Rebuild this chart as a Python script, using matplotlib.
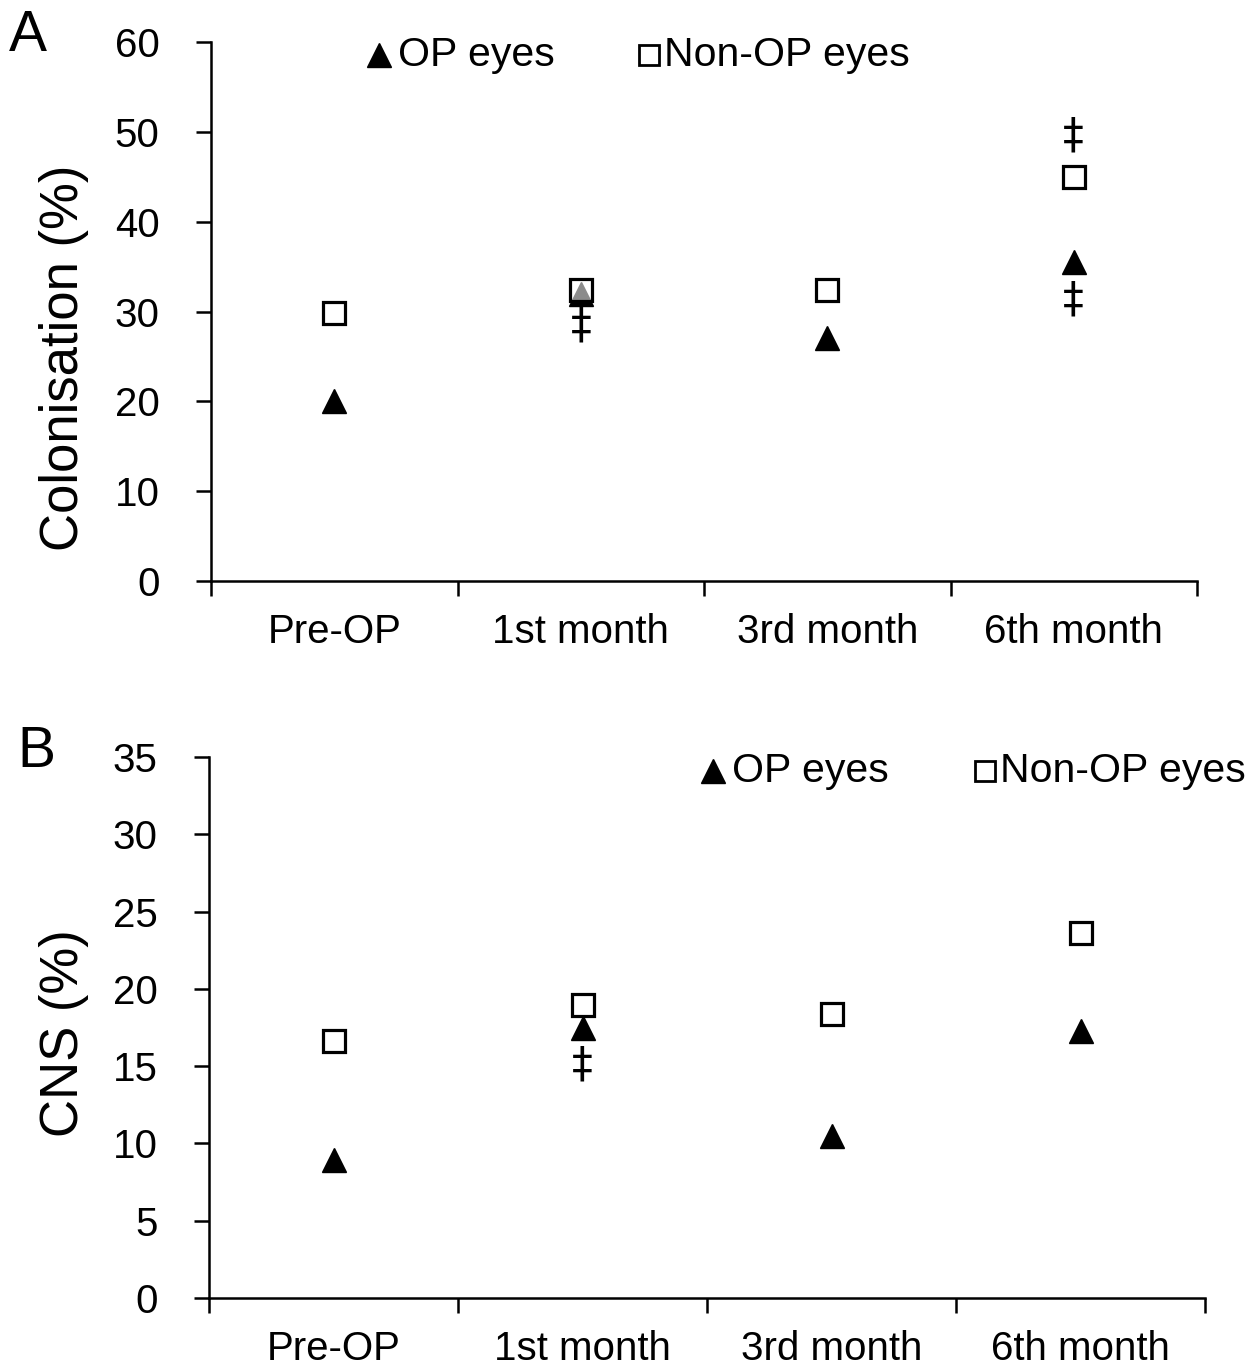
import matplotlib
matplotlib.use("Agg")
import matplotlib.pyplot as plt

plt.rcParams['font.family'] = ['Liberation Sans', 'DejaVu Sans']

categories = ["Pre-OP", "1st month", "3rd month", "6th month"]

# Panel A: Colonisation (%)
colon_op = [20.0, 32.0, 27.0, 35.5]
colon_nonop = [29.8, 32.4, 32.4, 45.0]
colon_dagger_cat = [1, 3, 3]
colon_dagger_y = [28.4, 49.6, 31.3]

# Panel B: CNS (%)
cns_op = [8.9, 17.5, 10.5, 17.3]
cns_nonop = [16.6, 18.95, 18.4, 23.6]
cns_dagger_cat = [1]
cns_dagger_y = [15.1]

W, H = 1256, 1365
fig = plt.figure(figsize=(W / 100, H / 100), dpi=100)
axA = fig.add_axes([211 / W, 1 - 581 / H, 986 / W, 539 / H])
axB = fig.add_axes([209 / W, 1 - 1298 / H, 996 / W, 541 / H])

MS = 16
MEW = 2.3
TICKFS = 29
LEGFS = 29.5


def draw(ax, op, nonop, dcat, dy, ymax, ystep, ylabel, label_coords, legend_px, axw, overlap_alpha):
    x = list(range(len(categories)))
    ax.plot(x, op, linestyle='none', marker='^', ms=MS + 1, color='black', zorder=3)
    ax.plot(x, nonop, linestyle='none', marker='s', ms=MS, mfc=(1, 1, 1, overlap_alpha),
            mec='black', mew=MEW, zorder=4)
    for c, y in zip(dcat, dy):
        ax.text(c, y, '\u2021', ha='center', va='center', fontsize=30, color='black',
                family='DejaVu Sans', zorder=5)
    ax.set_xlim(-0.5, len(categories) - 0.5)
    ax.set_ylim(0, ymax)
    ax.set_yticks(range(0, ymax + 1, ystep))
    ax.set_xticks([i - 0.5 for i in range(len(categories) + 1)])
    ax.set_xticklabels([])
    ax.set_xticks(x, minor=True)
    ax.set_xticklabels(categories, minor=True)
    ax.tick_params(axis='x', which='minor', length=0, pad=23, labelsize=TICKFS)
    ax.tick_params(axis='x', which='major', length=11, width=1.8, direction='out')
    ax.tick_params(axis='y', length=11, width=1.8, labelsize=TICKFS, pad=26)
    for s in ['top', 'right']:
        ax.spines[s].set_visible(False)
    for s in ['left', 'bottom']:
        ax.spines[s].set_linewidth(1.8)
    ax.set_ylabel(ylabel, fontsize=38)
    ax.yaxis.set_label_coords(*label_coords)
    # legend
    (t_px, s_px, yleg) = legend_px
    lx0 = t_px / axw
    lx1 = s_px / axw
    ax.plot([lx0], [yleg], transform=ax.transAxes, marker='^', ms=17, color='black',
            linestyle='none', clip_on=False)
    ax.text(lx0 + 19 / axw, yleg, 'OP eyes', transform=ax.transAxes, fontsize=LEGFS,
            va='center', ha='left')
    ax.plot([lx1], [yleg], transform=ax.transAxes, marker='s', ms=14, mfc='white',
            mec='black', mew=2, linestyle='none', clip_on=False)
    ax.text(lx1 + 15 / axw, yleg, 'Non-OP eyes', transform=ax.transAxes, fontsize=LEGFS,
            va='center', ha='left')


draw(axA, colon_op, colon_nonop, colon_dagger_cat, colon_dagger_y, 60, 10,
     'Colonisation (%)', (-0.124, 0.414), (379 - 211, 649 - 211, (581 - 55) / 539), 986, 0.55)
draw(axB, cns_op, cns_nonop, cns_dagger_cat, cns_dagger_y, 35, 5,
     'CNS (%)', (-0.120, 0.49), (713 - 209, 985 - 209, (1298 - 771) / 541), 996, 1.0)

fig.text(28 / W, 1 - 36 / H, 'A', fontsize=41, ha='center', va='center')
fig.text(36 / W, 1 - 752 / H, 'B', fontsize=41, ha='center', va='center')

fig.savefig('out.png', dpi=100)
